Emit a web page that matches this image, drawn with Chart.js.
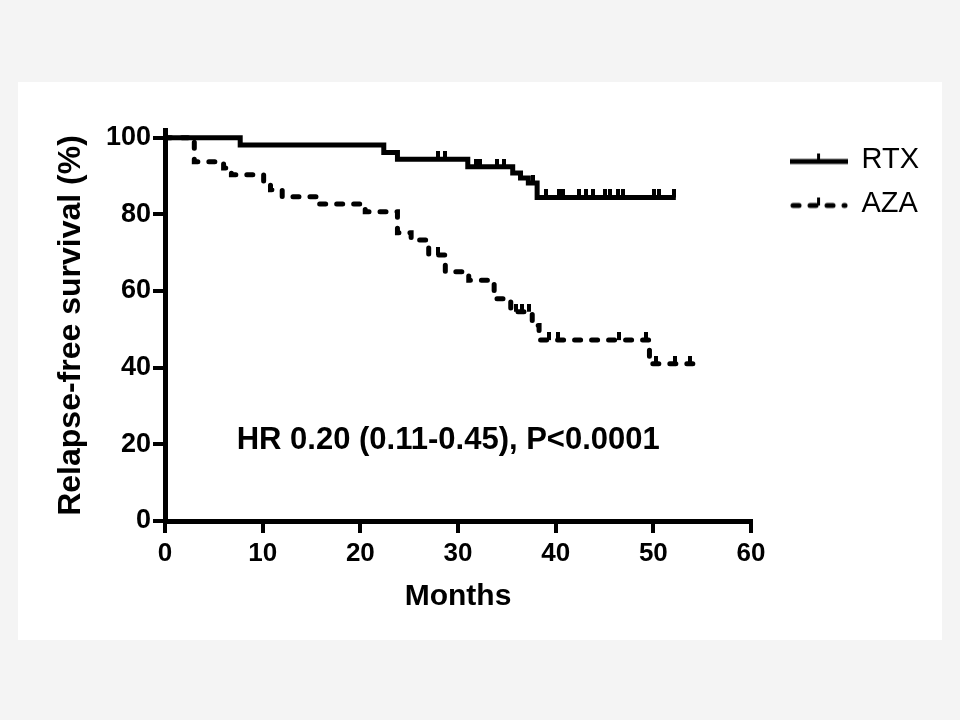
<!DOCTYPE html>
<html>
<head>
<meta charset="utf-8">
<script src="https://cdn.jsdelivr.net/npm/chart.js@4.4.0/dist/chart.umd.min.js"></script>
<style>
  html, body { margin: 0; padding: 0; background: #f4f4f4; }
  #frame { position: absolute; left: 18px; top: 82px; width: 924px; height: 558px; background: #fff; }
  #chart-wrap { position: absolute; left: 0; top: 0; width: 960px; height: 720px; }
</style>
</head>
<body>
<div id="frame"></div>
<div id="chart-wrap"><canvas id="survival-chart" width="960" height="720"></canvas></div>
<script>
// Kaplan-Meier steps: month of each drop and the survival level after it
const rtxMonths = [0, 7.7, 22.4, 23.8, 31.0, 35.6, 36.4, 37.2, 38.1, 52.3];
const rtxSurvival = [100, 98.1, 96.1, 94.4, 92.4, 90.8, 89.5, 88.2, 84.4, 84.4];
const rtxCensored = [28.0, 28.7, 31.8, 32.3, 34.0, 34.7, 37.7, 39.0, 40.3, 40.8, 42.4, 43.1,
  43.8, 45.1, 45.6, 46.4, 46.9, 50.1, 50.6, 52.1];

const azaMonths = [0, 3.0, 6.0, 6.8, 10.1, 10.8, 12.0, 15.6, 20.5, 23.8, 25.2, 27.0, 28.7,
  31.1, 33.7, 35.4, 37.6, 38.3, 49.6, 54.1];
const azaSurvival = [100, 93.7, 92.1, 90.3, 88.4, 86.4, 84.6, 82.7, 80.7, 75.2, 73.3, 69.4,
  65.0, 62.8, 58.0, 54.6, 51.0, 47.2, 41.0, 41.0];
const azaCensored = [28.0, 35.9, 36.6, 37.3, 39.3, 40.2, 46.5, 49.2, 50.3, 52.2, 53.8];

const xTicks = [0, 10, 20, 30, 40, 50, 60];
const yTicks = [0, 20, 40, 60, 80, 100];

const hrText = "HR 0.20 (0.11-0.45), P<0.0001";
const hrAt = [29, 21];

const font = "'Liberation Sans', Arial, Helvetica, sans-serif";

function survivalAt(months, survival, t) {
  let value = survival[0];
  for (let i = 0; i < months.length; i++) {
    if (months[i] <= t) value = survival[i];
  }
  return value;
}

// small upward tick, drawn centred on the point so only the top half shows
function makeCensorMark() {
  const c = document.createElement("canvas");
  c.width = 4;
  c.height = 16;
  const g = c.getContext("2d");
  g.fillStyle = "#000";
  g.fillRect(0, 0, 4, 8);
  return c;
}

function makeLegendSample(dash) {
  const c = document.createElement("canvas");
  c.width = 58;
  c.height = 20;
  const g = c.getContext("2d");
  g.strokeStyle = "#000";
  g.lineWidth = 5;
  g.lineCap = dash.length ? "round" : "butt";
  g.setLineDash(dash);
  g.beginPath();
  g.moveTo(dash.length ? 3 : 0, 12);
  g.lineTo(dash.length ? 55 : 58, 12);
  g.stroke();
  g.fillStyle = "#000";
  g.fillRect(27, 4, 3, 8);
  return c;
}

const censorMark = makeCensorMark();
const azaDash = [6, 11];

const hrNote = {
  id: "hrNote",
  afterDatasetsDraw(chart) {
    const { ctx, scales: { x, y } } = chart;
    ctx.save();
    ctx.font = `bold 31px ${font}`;
    ctx.fillStyle = "#000";
    ctx.textAlign = "center";
    ctx.textBaseline = "middle";
    ctx.fillText(hrText, x.getPixelForValue(hrAt[0]), y.getPixelForValue(hrAt[1]));
    ctx.restore();
  }
};

const axisGrid = {
  display: true,
  drawOnChartArea: false,
  drawTicks: true,
  tickLength: 12,
  tickWidth: 4,
  lineWidth: 4,
  color: "#000"
};

const chart = new Chart(document.getElementById("survival-chart"), {
  type: "line",
  data: {
    datasets: [
      {
        label: "RTX",
        data: rtxMonths.map((m, i) => ({ x: m, y: rtxSurvival[i] })),
        borderColor: "#000",
        borderWidth: 5,
        stepped: true,
        pointRadius: 0,
        fill: false,
        legendSample: makeLegendSample([])
      },
      {
        label: "AZA",
        data: azaMonths.map((m, i) => ({ x: m, y: azaSurvival[i] })),
        borderColor: "#000",
        borderWidth: 5,
        borderDash: azaDash,
        borderCapStyle: "round",
        stepped: true,
        pointRadius: 0,
        fill: false,
        legendSample: makeLegendSample(azaDash)
      },
      {
        label: "RTX censored",
        data: rtxCensored.map((m) => ({ x: m, y: survivalAt(rtxMonths, rtxSurvival, m) })),
        showLine: false,
        pointStyle: censorMark,
        pointRadius: 3
      },
      {
        label: "AZA censored",
        data: azaCensored.map((m) => ({ x: m, y: survivalAt(azaMonths, azaSurvival, m) })),
        showLine: false,
        pointStyle: censorMark,
        pointRadius: 3
      }
    ]
  },
  options: {
    responsive: false,
    animation: false,
    layout: {
      padding: { top: 130, right: 31, bottom: 0, left: 0 }
    },
    plugins: {
      tooltip: { enabled: false },
      legend: {
        position: "right",
        align: "start",
        fullSize: false,
        labels: {
          usePointStyle: true,
          pointStyleWidth: 56,
          padding: 15,
          color: "#000",
          font: { family: font, size: 29 },
          generateLabels: (c) =>
            c.data.datasets
              .map((ds, i) => ({ ds, i }))
              .filter(({ ds }) => ds.legendSample)
              .map(({ ds, i }) => ({
                text: ds.label,
                pointStyle: ds.legendSample,
                fillStyle: "#000",
                strokeStyle: "#000",
                lineWidth: 0,
                fontColor: "#000",
                hidden: false,
                datasetIndex: i
              }))
        }
      }
    },
    scales: {
      x: {
        type: "linear",
        min: 0,
        max: 60,
        afterFit: (s) => { s.height = 199; },
        afterBuildTicks: (s) => { s.ticks = xTicks.map((v) => ({ value: v })); },
        border: { display: true, width: 5, color: "#000" },
        grid: axisGrid,
        ticks: {
          color: "#000",
          padding: 5,
          maxRotation: 0,
          font: { family: font, size: 26, weight: "bold" }
        },
        title: {
          display: true,
          text: "Months",
          color: "#000",
          padding: { top: 0, bottom: 105 },
          font: { family: font, size: 30, weight: "bold" }
        }
      },
      y: {
        type: "linear",
        min: 0,
        max: 102,
        afterFit: (s) => { s.width = 165; },
        afterBuildTicks: (s) => { s.ticks = yTicks.map((v) => ({ value: v })); },
        border: { display: true, width: 5, color: "#000" },
        grid: axisGrid,
        ticks: {
          color: "#000",
          padding: 2,
          font: { family: font, size: 27, weight: "bold" }
        },
        title: {
          display: true,
          text: "Relapse-free survival (%)",
          color: "#000",
          padding: { top: 52, bottom: 0 },
          font: { family: font, size: 32, weight: "bold" }
        }
      },
      // empty right-hand axis, only keeps a gap between plot and legend
      gap: {
        type: "linear",
        position: "right",
        display: true,
        afterFit: (s) => { s.width = 25; },
        grid: { display: false },
        border: { display: false },
        ticks: { display: false }
      }
    }
  },
  plugins: [hrNote]
});
</script>
</body>
</html>
